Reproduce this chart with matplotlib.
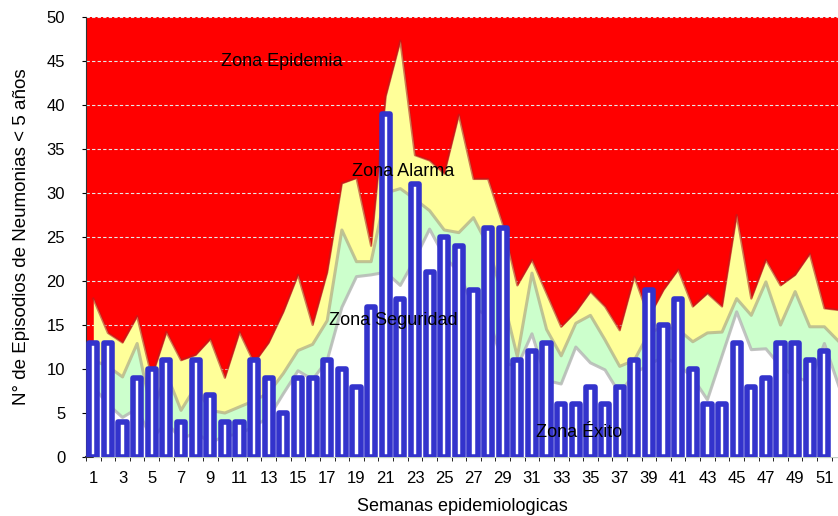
import numpy as np
import matplotlib
matplotlib.use("Agg")
from matplotlib import pyplot as plt
from matplotlib.ticker import MultipleLocator

plt.rcParams['font.family'] = ['Liberation Sans', 'DejaVu Sans']

# semanas 1..52 (la 52 queda cortada en el borde derecho)
semanas = list(range(1, 53))

# limite superior de cada zona del canal endemico
exito_top = [8.0, 6.0, 4.5, 5.5, 2.0, 4.0, 2.0, 2.8, 1.6, 2.4, 2.6, 3.5, 4.5, 7.2, 9.8, 8.8,
             11.0, 17.0, 20.5, 20.7, 21.0, 19.5, 22.5, 25.9, 22.8, 21.0, 17.0, 16.0, 10.7, 10.3,
             14.0, 8.7, 8.3, 12.5, 10.7, 9.9, 7.2, 9.5, 10.5, 11.4, 10.5, 9.0, 6.5, 11.5,
             16.5, 12.2, 12.3, 10.3, 9.1, 8.5, 12.9, 8.0]
seguridad_top = [11.0, 10.3, 9.1, 12.9, 5.0, 9.5, 5.3, 8.0, 5.3, 5.0, 5.7, 6.4, 7.3, 9.5, 12.1, 12.8,
                 15.5, 25.8, 22.2, 22.2, 30.0, 30.5, 29.3, 28.0, 25.8, 25.5, 27.2, 24.0, 18.2, 11.4,
                 20.9, 14.5, 11.5, 15.2, 16.1, 13.3, 10.3, 11.0, 14.1, 14.8, 14.5, 13.1, 14.1, 14.2,
                 18.0, 16.1, 19.9, 15.0, 18.8, 14.8, 14.8, 13.1]
alarma_top = [18.0, 14.1, 13.0, 16.0, 9.1, 14.2, 11.0, 11.6, 13.4, 9.0, 14.2, 10.7, 13.0, 16.5, 20.7, 15.0,
              21.0, 31.1, 31.7, 24.0, 41.0, 47.3, 34.3, 33.7, 32.2, 38.9, 31.6, 31.6, 26.5, 19.5,
              22.4, 18.6, 14.8, 16.5, 18.8, 17.1, 14.4, 20.5, 15.9, 19.0, 21.3, 17.1, 18.6, 17.1,
              27.5, 18.0, 22.4, 19.5, 20.7, 23.1, 16.9, 16.7]

# casos observados, semanas 1..51
casos = [13, 13, 4, 9, 10, 11, 4, 11, 7, 4, 4, 11, 9, 5, 9, 9, 11, 10, 8, 17, 39, 18, 31, 21, 25,
         24, 19, 26, 26, 11, 12, 13, 6, 6, 8, 6, 8, 11, 19, 15, 18, 10, 6, 6, 13, 8, 9, 13, 13, 11, 12]

fig = plt.figure(figsize=(8.38, 5.16), dpi=100)
ax = fig.add_axes([0.1026, 0.1143, 0.8974, 0.8527])
ax.set_facecolor('#FF0000')

x = np.array(semanas)
ax.fill_between(x, 0, alarma_top, color='#FFFF99', zorder=2, linewidth=0)
ax.plot(x, alarma_top, color='#B22222', lw=1.6, alpha=0.6, zorder=2.1)
ax.fill_between(x, 0, seguridad_top, color='#CCFFCC', zorder=3, linewidth=0)
ax.plot(x, seguridad_top, color='#B4B48C', lw=2.2, alpha=0.8, zorder=3.1)
ax.fill_between(x, 0, exito_top, color='white', zorder=4, linewidth=0)
ax.plot(x, exito_top, color='#B4B4B4', lw=2.2, alpha=0.8, zorder=4.1)

xb = np.arange(1, len(casos) + 1)
ax.bar(xb, casos, width=0.56, color='white', edgecolor='#3333CC', linewidth=4.0,
       joinstyle='round', zorder=5)

ax.set_xlim(0.5, 51.93)
ax.set_ylim(0, 50)
ax.yaxis.set_major_locator(MultipleLocator(5))
ax.set_xticks(range(1, 52, 2))
ax.set_xticks(np.arange(0.5, 52, 1), minor=True)
ax.tick_params(axis='x', which='major', length=0, labelsize=12, pad=10)
ax.tick_params(axis='x', which='minor', length=3)
ax.tick_params(axis='y', length=3, labelsize=12, pad=12)
ax.grid(axis='y', color='#E8E8E8', linestyle=(0, (3, 2)), linewidth=0.8, zorder=1)
ax.set_axisbelow(True)

for s in ['top', 'right']:
    ax.spines[s].set_visible(False)
ax.spines['left'].set_color('#333333')
ax.spines['bottom'].set_color('#333333')
ax.spines['bottom'].set_linewidth(1.5)

ax.set_xlabel('Semanas epidemiologicas', fontsize=13, labelpad=9)
ax.set_ylabel('N° de Episodios de Neumonias < 5 años', fontsize=13.5, labelpad=12)

ax.text(13.9, 45, 'Zona Epidemia', fontsize=13, ha='center', va='center', zorder=6)
ax.text(22.2, 32.5, 'Zona Alarma', fontsize=13, ha='center', va='center', zorder=6)
ax.text(21.5, 15.5, 'Zona Seguridad', fontsize=13, ha='center', va='center', zorder=6)
ax.text(34.2, 2.8, 'Zona Éxito', fontsize=13, ha='center', va='center', zorder=6)

fig.savefig('out.png', dpi=100)
